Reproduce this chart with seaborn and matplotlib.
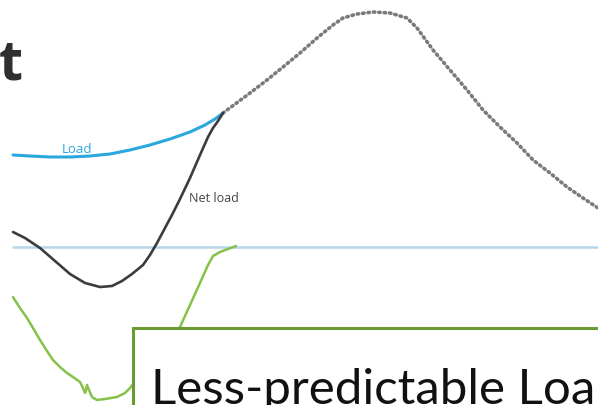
import matplotlib
matplotlib.use("Agg")
import matplotlib.pyplot as plt
import seaborn as sns
from matplotlib.patches import Rectangle

sns.set_theme(style="white")
plt.rcParams['font.family'] = ['Open Sans', 'DejaVu Sans']

# Load curve (blue): x = position along the day, y = level (top = high)
load_x = [13, 30, 50, 70, 90, 110, 130, 150, 170, 190, 205, 215, 223]
load_y = [155, 156, 157, 157, 156, 154, 150, 145, 139, 132, 125, 119, 113]

# Remaining load (dotted)
peak_x = [223, 250, 267, 283, 300, 317, 333, 343, 357, 373, 390, 407, 417, 433, 450,
          467, 483, 500, 517, 533, 550, 567, 583, 598]
peak_y = [113, 93, 80, 67, 53, 38, 25, 18, 14, 12, 13, 18, 28, 50, 70,
          90, 110, 127, 143, 160, 173, 187, 198, 208]

# Net load (dark)
net_x = [13, 25, 40, 55, 70, 85, 100, 112, 122, 132, 143, 150, 157, 165, 173, 180,
         190, 200, 208, 213, 218, 223]
net_y = [232, 238, 248, 261, 274, 283, 287, 286, 281, 274, 265, 255, 243, 228, 213, 199,
         178, 155, 137, 128, 121, 113]

# Ramp (green)
ramp_x = [13, 20, 27, 33, 40, 47, 53, 60, 67, 73, 80, 83, 85, 86, 87, 89, 92, 97, 105,
          117, 125, 130, 140, 160, 180, 190, 200, 208, 213, 220, 228, 236]
ramp_y = [297, 308, 318, 328, 340, 351, 360, 367, 373, 377, 382, 388, 393, 390, 385, 390,
          397, 400, 399, 397, 393, 388, 375, 350, 327, 305, 283, 265, 256, 252, 249, 246]

ref_y = 246.5
box_label = "Less-predictable Loa"

fig = plt.figure(figsize=(5.98, 4.05), dpi=100)
ax = fig.add_axes([0, 0, 1, 1])
ax.set_xlim(0, 598)
ax.set_ylim(405, 0)
ax.axis('off')

ax.plot([13, 598], [ref_y, ref_y], color='#b5d6ea', lw=1.8, zorder=1)

sns.lineplot(x=peak_x, y=peak_y, ax=ax, color='#7a7a7a', lw=2.6, sort=False,
             linestyle=(0, (0.4, 1.1)), dash_capstyle='round', zorder=2)
sns.lineplot(x=load_x, y=load_y, ax=ax, color='#2aa7df', lw=2.2, sort=False, zorder=3)
sns.lineplot(x=net_x, y=net_y, ax=ax, color='#3c3c3c', lw=1.9, sort=False, zorder=3)
sns.lineplot(x=ramp_x, y=ramp_y, ax=ax, color='#86c24a', lw=1.8, sort=False, zorder=3)

ax.add_patch(Rectangle((133, 327.5), 520, 120, facecolor='white', edgecolor='#6a9a32',
                       lw=2.2, zorder=5))
ax.text(151, 404, box_label, fontsize=35.5, color='#111111', ha='left', va='baseline',
        family=['Lato', 'DejaVu Sans'], zorder=6)

ax.text(62, 153, "Load", fontsize=9.5, color='#2aa7df', ha='left', va='baseline', zorder=6)
ax.text(189, 202, "Net load", fontsize=9, color='#444444', ha='left', va='baseline', zorder=6)
ax.text(23, 80, "t", fontsize=40, fontweight='bold', color='#2f2f2f', ha='right', va='baseline',
        zorder=6)

fig.savefig("out.png", dpi=100)
